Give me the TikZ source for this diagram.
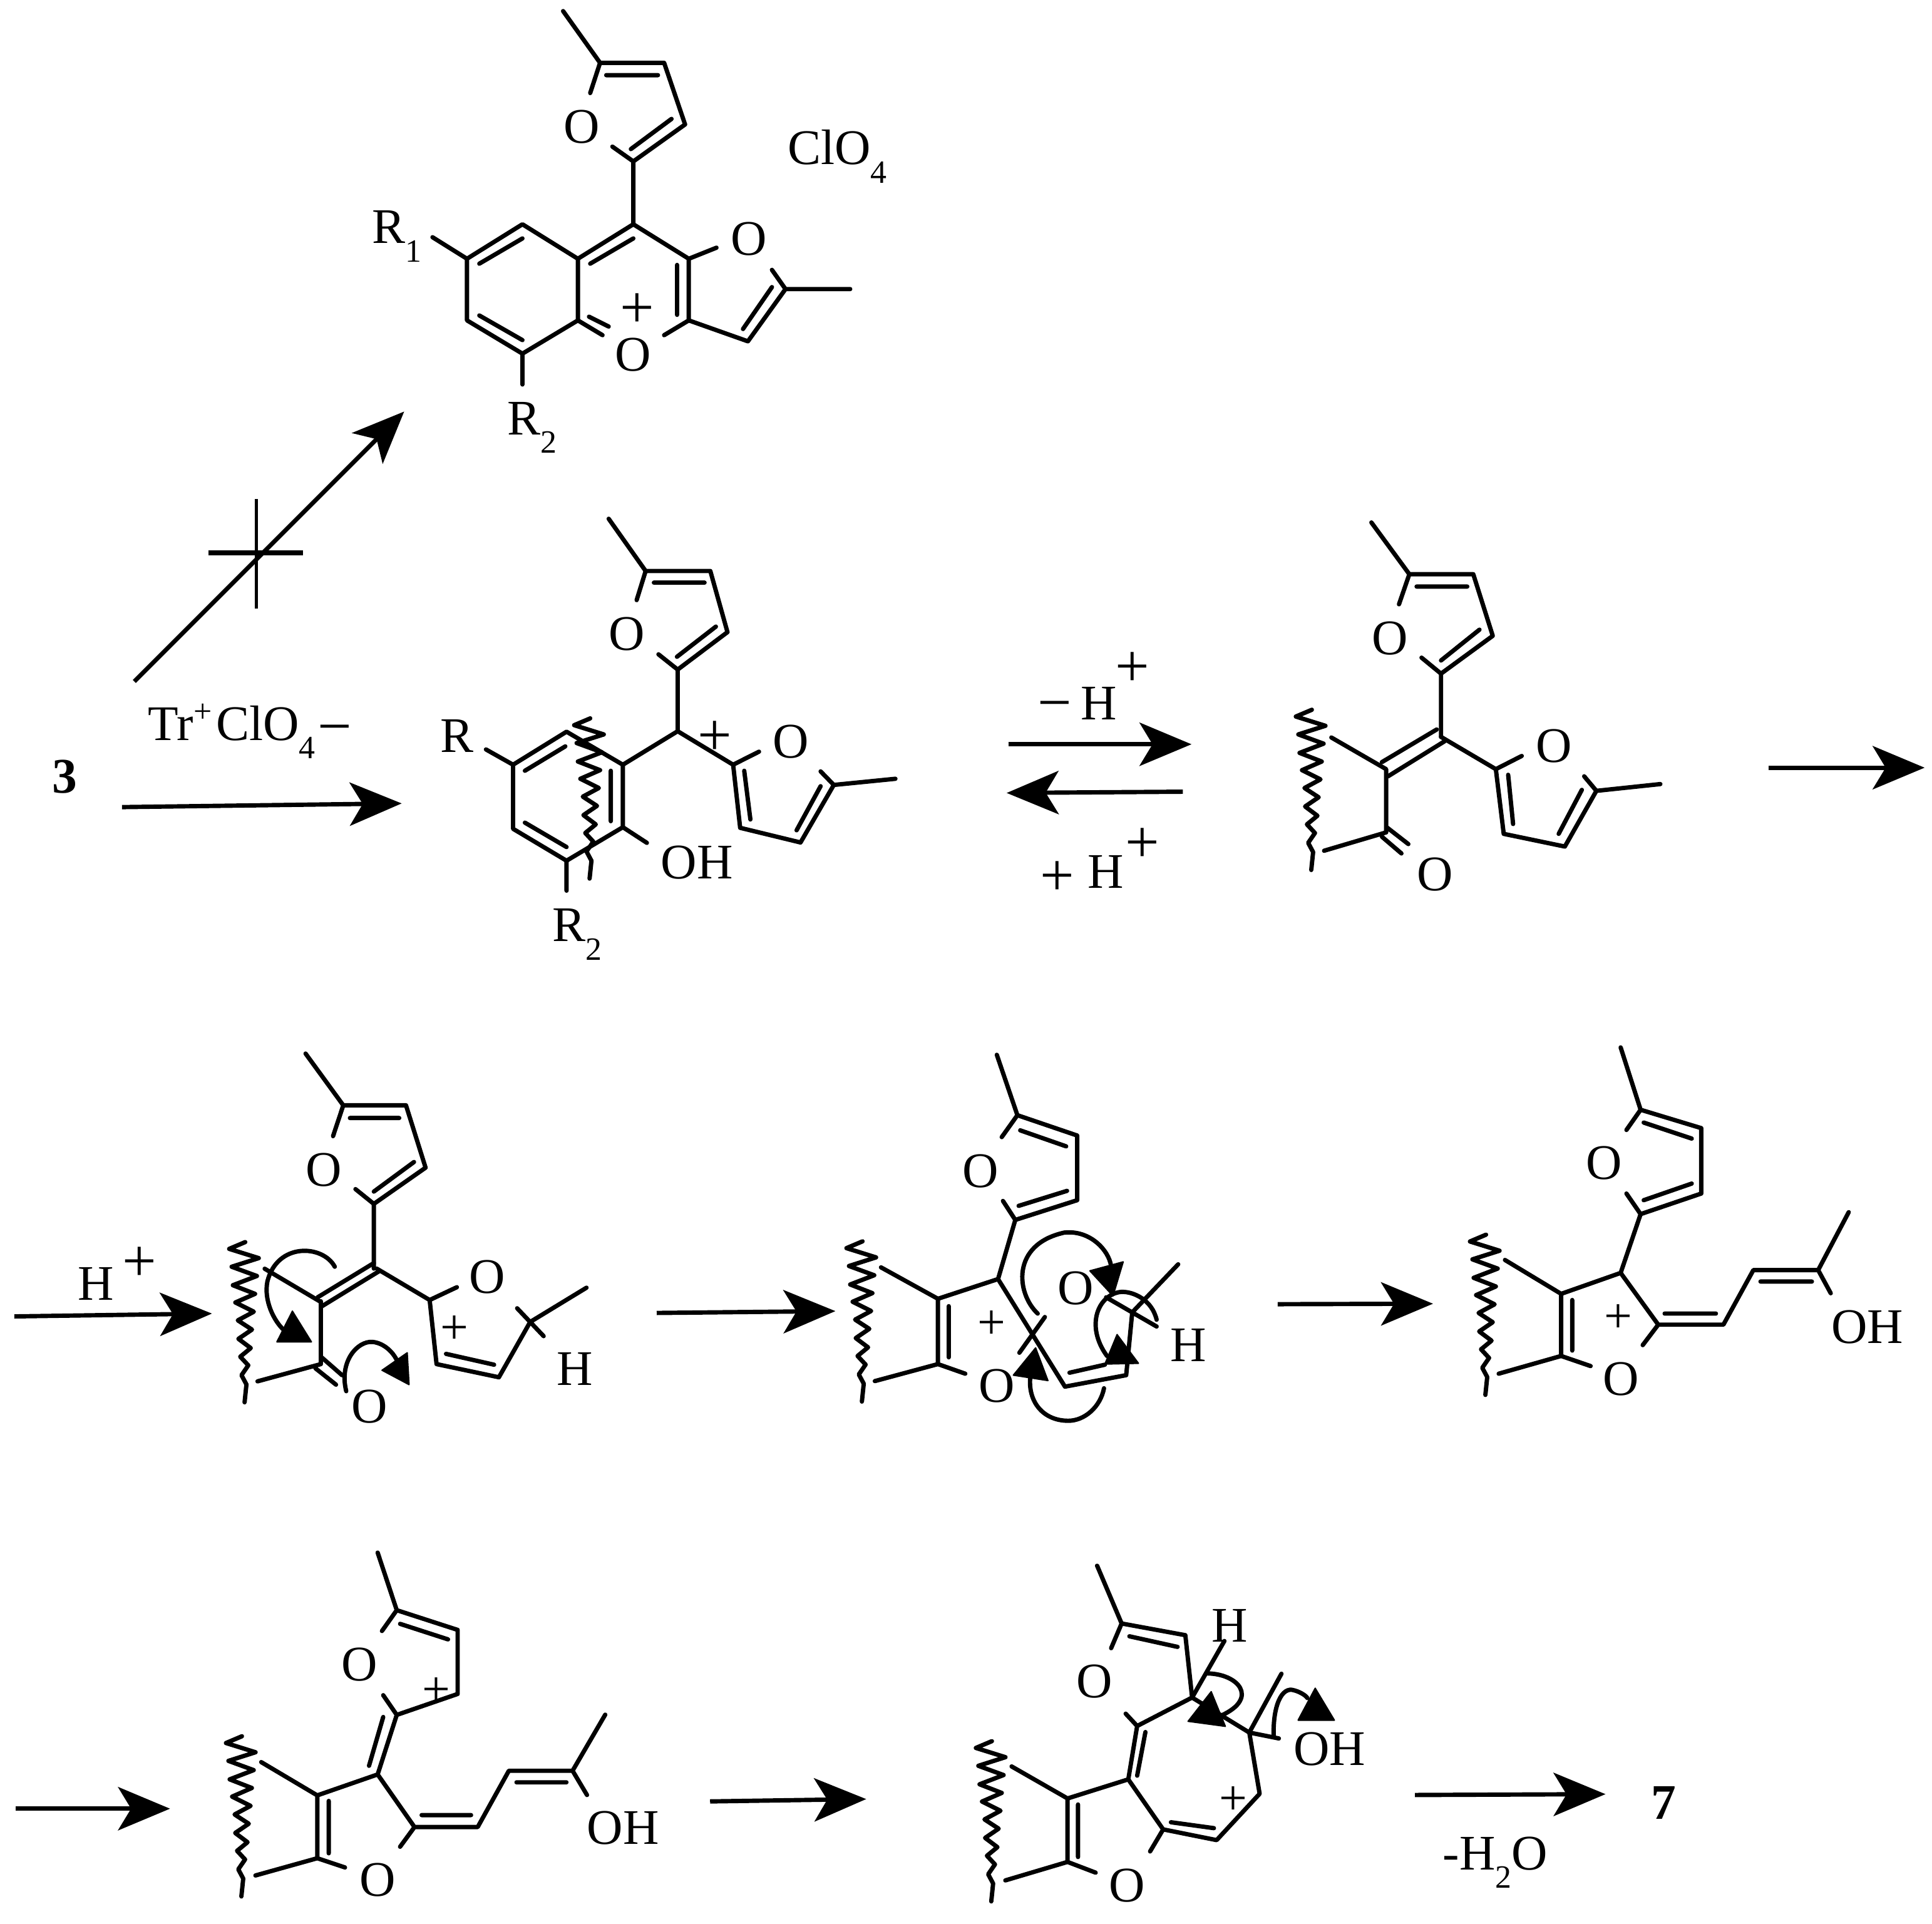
\documentclass[tikz,border=0pt]{standalone}
\usepackage{fontspec}
\setmainfont{Liberation Serif}
\usetikzlibrary{arrows.meta}

\newcommand{\subt}[1]{\raisebox{-8.5pt}{\fontsize{15}{15}\selectfont #1}}
\newcommand{\supt}[1]{\raisebox{8.5pt}{\fontsize{15}{15}\selectfont #1}}
\newcommand{\wavycut}[2]{\draw[bond, shift={(#1,#2)}] (0,0) -- (-13,5.5) -- (11,13) -- (-11,20) -- (9.5,27.5) -- (-10,35) -- (8,42) -- (-8,49) -- (7,56.5) -- (-6,63.5) -- (5.5,71) -- (-5.5,78.5) -- (4.5,86) -- (-4,93) -- (2.5,100) -- (-3,108) -- (1,115.5) -- (-0.5,130);}

\tikzset{
    bond/.style={line width=2pt, line cap=round, line join=round},
    txt/.style={inner sep=0pt, font=\fontsize{23}{25}\selectfont},
    txtbig/.style={inner sep=0pt, font=\fontsize{28}{30}\selectfont},
    rxnarrow/.style={line width=2pt, -{Stealth[length=24pt,width=20pt,inset=6pt]}},
    curly/.style={line width=2pt, line cap=round},
    curlyhead/.style={fill=black, draw=black, line width=0.6pt, line join=round}
}

\begin{document}
\begin{tikzpicture}[x=0.02cm, y=-0.02cm]
    \useasboundingbox (0,0) rectangle (1568,1561);

    % Top pyrylium salt
    \draw[bond] (457,9) -- (487,51) -- (539,51) -- (556,101) -- (514,131) -- (514,182) -- (469,210) -- (469,260) -- (424,287) -- (379,260) -- (379,210) -- (424,182) -- (469,210);
    \draw[bond] (487,51) -- (479,75.5) (514,131) -- (497,119) (492,61) -- (534,61) (512,121) -- (545,96.5);
    \draw[bond] (351,192.5) -- (379,210) (389,214) -- (424,193.5) (389,256) -- (424,276) (479,214) -- (514,193.5);
    \draw[bond] (514,182) -- (559,210) -- (581.5,201) (559,210) -- (559,260) -- (539,272) (549.5,215) -- (549.5,255.5);
    \draw[bond] (469,260) -- (489,272) (478,257) -- (494,265) (424,287) -- (424,312);
    \draw[bond] (559,260) -- (607,277) -- (637.5,234.6) -- (626.5,219) (603,267) -- (626.5,233) (637.5,234.6) -- (690,234.6);
    \node[txt] (ofur1) at (472,103) {O};
    \node[txt] (opyr1) at (608,194) {O};
    \node[txt] (ocat1) at (514,288) {O};
    \node[txtbig] (plus1) at (517,252) {+};
    \node[txt, anchor=base west] (rone1) at (301.5,197.5) {R\subt{1}};
    \node[txt, anchor=base west] (rtwo1) at (411.5,352.7) {R\subt{2}};
    \node[txt, anchor=base west] (clo1) at (639,133.6) {ClO\subt{4}};

    % Blocked arrow
    \coordinate (blockS) at (109,553);
    \coordinate (blockE) at (328,334);
    \draw[rxnarrow] (blockS) -- (blockE);
    \draw[line width=2.4pt] (169,448.6) -- (246,448.6);
    \draw[line width=1.5pt] (208,405) -- (208,494);

    % Row two, reagents
    \node[txt, font=\fontsize{23}{25}\selectfont\bfseries] (cmpd3) at (52.4,630.5) {3};
    \node[txt, anchor=base west] (trityl) at (120,600.8) {Tr\supt{+}\kern2ptClO\subt{4}\kern1pt\raisebox{-3pt}{\fontsize{28}{30}\selectfont −}};
    \coordinate (trS) at (99,655);
    \coordinate (trE) at (326,652);
    \draw[rxnarrow] (trS) -- (trE);

    % Carbenium ion
    \draw[bond] (494,421) -- (524,463.4) -- (576.5,463.4) -- (590.4,513) -- (550,543.4) -- (550,593.4) -- (505.5,620.6) -- (505.5,671.3) -- (459.8,698.5) -- (416.4,672.6) -- (416.4,620.6) -- (459.8,593.8) -- (505.5,620.6);
    \draw[bond] (524,463.4) -- (516.7,487) (550,543.4) -- (534.4,531) (530.7,472.8) -- (571.8,472.8) (549.4,533) -- (581,508.5);
    \draw[bond] (426,625.5) -- (458.8,605.7) (426,667.6) -- (459.8,687.4) (495.7,625.5) -- (495.7,666.4);
    \draw[bond] (416.4,620.6) -- (394.4,608.2) (505.5,671.3) -- (525,684) (459.8,698.5) -- (459.8,722.8);
    \draw[bond] (550,593.4) -- (595,620.6) -- (616,610) (595,620.6) -- (600.7,671.8) -- (649.7,683.7) -- (676.7,637) -- (726.7,632) (676.7,637) -- (666,626);
    \draw[bond] (604,625.5) -- (609,665) (646.5,673.8) -- (666,638);
    \wavycut{479}{583}
    \node[txt] (ofur2) at (508.8,514.7) {O};
    \node[txt] (opyr2) at (641.7,602) {O};
    \node[txtbig] (plus2) at (580,599) {+};
    \node[txt] (rone2) at (371,597) {R};
    \node[txt] (oh2) at (565.7,700) {OH};
    \node[txt, anchor=base west] (rtwo2) at (448,764) {R\subt{2}};

    % Proton loss and gain
    \coordinate (lossS) at (818.4,604);
    \coordinate (lossE) at (967,604);
    \coordinate (gainS) at (960,642.5);
    \coordinate (gainE) at (817,643.5);
    \draw[rxnarrow] (lossS) -- (lossE);
    \draw[rxnarrow] (gainS) -- (gainE);
    \node[txt] (lossH) at (891.6,570.7) {H};
    \node[txtbig] (lossM) at (856,578) {−};
    \node[txtbig] (lossP) at (919,543) {+};
    \node[txt] (gainH) at (897.5,707.5) {H};
    \node[txtbig] (gainA) at (858,713) {+};
    \node[txtbig] (gainP) at (927,685.8) {+};

    % Neutral ketone
    \draw[bond] (1113,424) -- (1143.8,466) -- (1195.7,466) -- (1211.5,516) -- (1169.5,546.7) -- (1169.5,598);
    \draw[bond] (1143.8,466) -- (1135.4,490.4) (1169.5,546.7) -- (1153.7,533.7) (1149.7,476) -- (1190.8,476) (1169.5,536) -- (1200.7,511);
    \draw[bond] (1166,592) -- (1121.5,618.5) (1172.5,601.5) -- (1126.5,630);
    \draw[bond] (1080.5,598.5) -- (1125,624.2) -- (1125,675.5) -- (1074.6,690.4) (1125,671) -- (1143,685) (1121.5,679) -- (1137.4,692.6);
    \draw[bond] (1169.5,598) -- (1214,624.2) -- (1235,613.5) (1214,624.2) -- (1220.4,676.7) -- (1270,687) -- (1295.6,641.8) -- (1347.5,636.3) (1295.6,641.8) -- (1285.7,630);
    \draw[bond] (1224,628.8) -- (1228,668.7) (1265,676.7) -- (1283.8,641);
    \wavycut{1064.7}{576}
    \node[txt] (ofur3) at (1128,518) {O};
    \node[txt] (opyr3) at (1261,605.3) {O};
    \node[txt] (oket3) at (1164.6,709.7) {O};
    \coordinate (outS) at (1435.5,623);
    \coordinate (outE) at (1562,623);
    \draw[rxnarrow] (outS) -- (outE);

    % Row three, protonation
    \coordinate (protS) at (11.6,1068.3);
    \coordinate (protE) at (172,1066);
    \draw[rxnarrow] (protS) -- (protE);
    \node[txt] (protH) at (77.7,1041.7) {H};
    \node[txtbig] (protP) at (113,1025.8) {+};
    \draw[bond] (248,855) -- (278.6,897) -- (329.5,897) -- (345.4,947.6) -- (303.4,977) -- (303.4,1029.5);
    \draw[bond] (278.6,897) -- (270.3,922) (303.4,977) -- (288.5,965) (284,907.3) -- (324,907.3) (303.4,967) -- (336,943);
    \draw[bond] (303.4,1025) -- (257.8,1052.8) (307.4,1031.8) -- (260.4,1060.6);
    \draw[bond] (214.8,1029.6) -- (259.4,1056) (260.4,1056) -- (260.4,1107) -- (209,1121) (261,1101.5) -- (277.6,1116) (256,1110.4) -- (272.7,1123.7);
    \draw[bond] (305.7,1029.5) -- (348.7,1055) -- (370.8,1044.6) (348.7,1055) -- (354.3,1107) -- (404.9,1117.7) -- (430.3,1072.8) -- (476,1045) (419.7,1061.7) -- (441.2,1084.3) (362,1098.7) -- (401,1107.5);
    \wavycut{199}{1008}
    \node[txt] (ofur4) at (262.7,949.4) {O};
    \node[txt] (opyr4) at (395.6,1036.2) {O};
    \node[txt] (oket4) at (300,1141.4) {O};
    \node[txt] (hyd4) at (466.7,1110.8) {H};
    \node[txt] (plus4) at (369,1079.4) {+};
    \draw[curly] (271.7,1028) .. controls (262,1010) and (225,1008) .. (217,1040) .. controls (214,1055) and (222,1072) .. (231,1080);
    \draw[curlyhead] (237.3,1064) -- (224.7,1089) -- (252.8,1089) -- cycle;
    \draw[curly] (281,1129) .. controls (275,1105) and (290,1088) .. (302.4,1089) .. controls (312,1090) and (320,1098) .. (323,1106);
    \draw[curlyhead] (330.5,1097.8) -- (332,1123.7) -- (310,1112) -- cycle;

    % Ring closure
    \coordinate (closeS) at (533,1065.5);
    \coordinate (closeE) at (678,1064);
    \draw[rxnarrow] (closeS) -- (closeE);
    \draw[bond] (809,856) -- (825.7,905) -- (874.2,921.5) -- (874.2,974) -- (824,990) -- (810,1038) -- (761.2,1054) -- (715,1028.5) (761.2,1054) -- (761.2,1107) -- (710,1120.8) (761.2,1107) -- (783.4,1114.8);
    \draw[bond] (825.7,905) -- (813,922.8) (824,990) -- (814,974.6) (828,917.3) -- (865.3,930.3) (826.7,978.6) -- (866,966.4) (770,1060) -- (770,1101.5);
    \draw[bond] (810,1038) -- (864.3,1125.3) -- (914,1116) -- (918.9,1065) -- (956.2,1026) (868,1114) -- (896.7,1107.5) (897.7,1052.8) -- (938.7,1076.5) (848,1068.8) -- (827.3,1097.8);
    \wavycut{700}{1007.4}
    \node[txt] (ofur5) at (796,950.5) {O};
    \node[txt] (opyr5) at (873,1045.5) {O};
    \node[txt] (oket5) at (809,1124.8) {O};
    \node[txt] (plus5) at (804.8,1075) {+};
    \node[txt] (hyd5) at (964.5,1091.6) {H};
    \draw[curly] (842.2,1066) .. controls (825,1050) and (820,1010) .. (863.7,1000.3) .. controls (885,998) and (900,1015) .. (901.7,1027.3);
    \draw[curlyhead] (911.6,1024) -- (884.5,1031.3) -- (903.3,1051.7) -- cycle;
    \draw[curly] (938.7,1071) .. controls (935,1055) and (920,1048) .. (910,1048.4) .. controls (892,1050) and (880,1075) .. (898.4,1100.4);
    \draw[curlyhead] (906.6,1083) -- (896.7,1107) -- (924,1106.4) -- cycle;
    \draw[curly] (896,1126.6) .. controls (893,1142) and (880,1153) .. (867,1153) .. controls (845,1153) and (832,1135) .. (837,1112);
    \draw[curlyhead] (840.5,1093.8) -- (822.4,1116) -- (850.5,1120.4) -- cycle;

    % Enol cation
    \coordinate (enolS) at (1037,1058.4);
    \coordinate (enolE) at (1163,1058);
    \draw[rxnarrow] (enolS) -- (enolE);
    \draw[bond] (1315.3,850) -- (1331.5,900.6) -- (1380.7,915.5) -- (1380.7,968.6) -- (1331.5,985.3) -- (1315.3,1033) -- (1267,1050) -- (1221.4,1022.5) (1267,1050) -- (1267,1100.4) -- (1216.3,1114.8) (1267,1100.4) -- (1290.9,1108.6);
    \draw[bond] (1331.5,900.6) -- (1320,917) (1331.5,985.3) -- (1320,968.6) (1334,911) -- (1373,924) (1334,974) -- (1373,960.5) (1276,1055) -- (1276,1096);
    \draw[bond] (1315.3,1033) -- (1345.8,1075) -- (1333.2,1091.6) (1345.8,1075) -- (1398.7,1075) -- (1423,1030.7) -- (1475.6,1030.7) -- (1500.4,983.7) (1475.6,1030.7) -- (1485.8,1049.5) (1351,1066) -- (1392.6,1066) (1428.8,1040) -- (1470.5,1040);
    \wavycut{1206}{1002}
    \node[txt] (ofur6) at (1302,944) {O};
    \node[txt] (opyr6) at (1315.6,1119) {O};
    \node[txt] (plus6) at (1313.6,1070) {+};
    \node[txt] (oh6) at (1515.6,1077) {OH};

    % Row four, furanyl cation
    \coordinate (furS) at (12.8,1467.8);
    \coordinate (furE) at (138,1467.8);
    \draw[rxnarrow] (furS) -- (furE);
    \draw[bond] (306.5,1260) -- (322,1306.7) -- (371.4,1322.7) -- (371.4,1374.7) -- (322,1391.7) -- (306.5,1440) -- (257.5,1457) -- (212,1430) (257.5,1457) -- (257.5,1508) -- (207.3,1522) (257.5,1508) -- (280,1515.5);
    \draw[bond] (322,1306.7) -- (310,1323.6) (322,1391.7) -- (311,1375.7) (324.7,1317.8) -- (363.6,1330.4) (311,1393.4) -- (299.5,1433) (266.8,1461.5) -- (266.8,1504);
    \draw[bond] (306.5,1440) -- (336.4,1482.7) -- (324.7,1498.7) (336.4,1482.7) -- (387.7,1482.7) -- (413,1437) -- (464.7,1437) -- (491.2,1391.5) (464.7,1437) -- (476.4,1456.7) (342.2,1473) -- (382.3,1473) (419.2,1446.4) -- (459.7,1446.4);
    \wavycut{196.4}{1409}
    \node[txt] (ofur7) at (291.7,1350.6) {O};
    \node[txt] (opyr7) at (306.5,1525.7) {O};
    \node[txt] (plus7) at (354,1373) {+};
    \node[txt] (oh7) at (505.6,1483.6) {OH};

    % Seven membered ring
    \coordinate (ringS) at (576.3,1461.9);
    \coordinate (ringE) at (703,1460);
    \draw[rxnarrow] (ringS) -- (ringE);
    \draw[bond] (890.4,1270.6) -- (910.3,1317.5) -- (962,1327) -- (967.5,1377.6) -- (922.9,1400.7) -- (915.7,1444) -- (866.4,1459.5) -- (821,1433.5) (866.4,1459.5) -- (866.4,1511) -- (815.9,1526) (866.4,1511) -- (889.2,1519.7);
    \draw[bond] (910.3,1317.5) -- (901.8,1337.5) (922.9,1400.7) -- (913.6,1390.7) (916.6,1327.9) -- (955.7,1336.5) (929.6,1405.6) -- (922.9,1441) (874.9,1464.4) -- (874.9,1507);
    \draw[bond] (915.7,1444) -- (944,1484.6) -- (933.4,1502.5) (944,1484.6) -- (987.4,1493.3) -- (1022.3,1455.7) -- (1013.9,1406) -- (1040,1358.3) (1013.9,1406) -- (967.5,1377.6) -- (993.7,1331.7) (1013.9,1406) -- (1037.9,1410.8) (950.3,1478.8) -- (985.2,1483.6);
    \wavycut{805}{1413}
    \node[txt] (ofur8) at (888.4,1364.7) {O};
    \node[txt] (opyr8) at (914.5,1530) {O};
    \node[txt] (plus8) at (1000.8,1461.5) {+};
    \node[txt] (hyd8) at (997.9,1319) {H};
    \node[txt] (oh8) at (1079,1419.6) {OH};
    \draw[curly] (979,1358) .. controls (1005,1358) and (1022,1378) .. (991.6,1392);
    \draw[curlyhead] (983,1372.8) -- (964.2,1396.9) -- (994.5,1401) -- cycle;
    \draw[curly] (1033.7,1408.5) .. controls (1033,1385) and (1040,1368) .. (1050.5,1371.8) .. controls (1055,1373) and (1060,1376) .. (1061,1378);
    \draw[curlyhead] (1067.4,1370) -- (1053.5,1396) -- (1083,1396) -- cycle;

    % Last step
    \coordinate (lastS) at (1148.3,1456.7);
    \coordinate (lastE) at (1303,1456);
    \draw[rxnarrow] (lastS) -- (lastE);
    \node[txt, anchor=base west] (water) at (1170.6,1517.4) {-H\subt{2}O};
    \node[txt, font=\fontsize{23}{25}\selectfont\bfseries] (cmpd7) at (1350,1463) {7};
\end{tikzpicture}
\end{document}
